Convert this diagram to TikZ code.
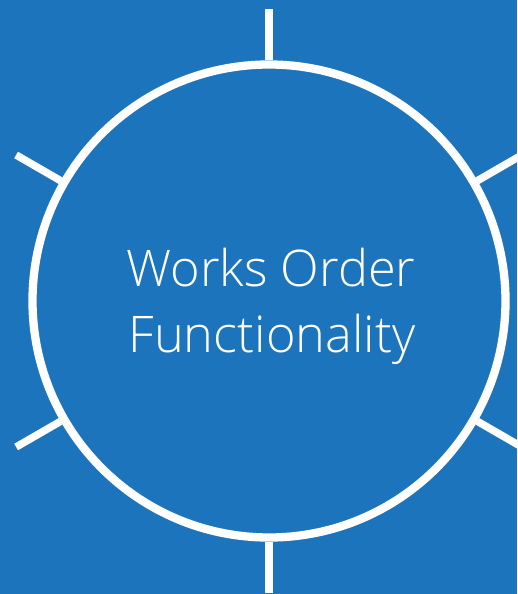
\documentclass[tikz,border=0pt]{standalone}
\usepackage{fontspec}
\setmainfont{Open Sans Light}
\usetikzlibrary{calc}
\definecolor{bgblue}{RGB}{28,117,188}
\tikzset{
  ring/.style={circle, draw=white, line width=8.3pt, minimum size=473pt, inner sep=0pt},
  spoke/.style={draw=white, line width=7.5pt},
  title/.style={text=white, font=\fontsize{50.5}{66}\selectfont, inner sep=0pt, anchor=base}
}
\begin{document}
\begin{tikzpicture}[x=1pt, y=-1pt]
  \fill[bgblue] (0,0) rectangle (517,594);
  \useasboundingbox (0,0) rectangle (517,594);
  \node[ring] (c) at (269,301) {};
  \foreach \a in {90,150,210,270,330,30} {
    \coordinate (e\a) at ($(c.center)+(\a:292pt)$);
    \draw[spoke] (c.\a) -- (e\a);
  }
  \node[title] (t1) at (271,286) {Works Order};
  \node[title] (t2) at (272,352) {Functionality};
\end{tikzpicture}
\end{document}
